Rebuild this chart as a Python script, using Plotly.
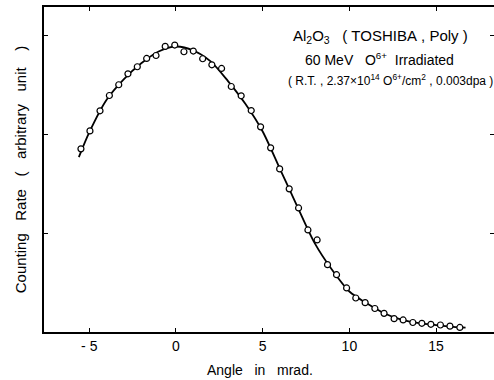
import plotly.graph_objects as go

# Measured points (angle in mrad, counting rate in arbitrary units)
angle = [-5.48, -4.96, -4.38, -3.84, -3.30, -2.77, -2.23, -1.69, -1.15, -0.62,
         -0.07, 0.46, 1.00, 1.54, 2.07, 2.63, 3.19, 3.76, 4.34, 4.88,
         5.46, 5.98, 6.53, 7.07, 7.61, 8.14, 8.74, 9.26, 9.84, 10.37,
         10.91, 11.47, 12.00, 12.58, 13.10, 13.66, 14.18, 14.70, 15.25, 15.80, 16.37]
rate = [1.854, 2.036, 2.239, 2.394, 2.503, 2.614, 2.685, 2.769, 2.799, 2.891,
        2.905, 2.837, 2.844, 2.766, 2.705, 2.668, 2.485, 2.391, 2.242, 2.077,
        1.864, 1.651, 1.449, 1.256, 1.033, 0.932, 0.682, 0.580, 0.446, 0.344,
        0.297, 0.238, 0.189, 0.135, 0.122, 0.096, 0.088, 0.078, 0.071, 0.059, 0.046]

# Smooth fitted curve
curve_angle = [-5.6, -5.0, -4.0, -3.0, -2.0, -1.0, 0.0, 1.0, 2.0, 3.0, 4.0, 5.0,
               6.0, 7.0, 8.0, 9.0, 10.0, 11.0, 12.0, 13.0, 14.0, 15.0, 16.0, 16.7]
curve_rate = [1.77, 2.02, 2.35, 2.56, 2.72, 2.84, 2.89, 2.85, 2.74, 2.54, 2.31, 2.03,
              1.65, 1.27, 0.90, 0.63, 0.41, 0.29, 0.19, 0.125, 0.09, 0.07, 0.052, 0.045]

x_tick_vals = [-5, 0, 5, 10, 15]
x_tick_text = ["- 5", "0", "5", "10", "15"]
y_tick_vals = [1, 2, 3]

FONT = "Liberation Sans"
NB = "\u00a0"

fig = go.Figure()
fig.add_trace(go.Scatter(x=curve_angle, y=curve_rate, mode="lines",
                         line=dict(color="black", width=1.8, shape="spline", smoothing=0.8),
                         hoverinfo="skip", showlegend=False))
fig.add_trace(go.Scatter(x=angle, y=rate, mode="markers",
                         marker=dict(symbol="circle", size=6, color="white",
                                     line=dict(color="black", width=1.2)),
                         showlegend=False))
# invisible trace to host the right-side tick axis
fig.add_trace(go.Scatter(x=[angle[0]], y=[rate[0]], yaxis="y2", mode="markers",
                         marker=dict(opacity=0), hoverinfo="skip", showlegend=False))

xr = [-7.61, 18.34]
yr = [0, 3.29]

fig.update_layout(
    width=494, height=380,
    margin=dict(l=44, r=0, t=7, b=48),
    paper_bgcolor="white", plot_bgcolor="white",
    font=dict(family=FONT, color="black", size=14),
    xaxis=dict(range=xr, tickvals=x_tick_vals, ticktext=x_tick_text,
               ticks="inside", ticklen=4, tickwidth=1, tickcolor="black",
               showline=True, linecolor="black", linewidth=1.5, mirror="ticks",
               showgrid=False, zeroline=False,
               tickfont=dict(size=14, family=FONT)),
    yaxis=dict(range=yr, tickvals=y_tick_vals, showticklabels=False,
               ticks="inside", ticklen=4, tickwidth=1, tickcolor="black",
               showline=True, linecolor="black", linewidth=1.5, mirror=False,
               showgrid=False, zeroline=False,
               title=dict(text=f"Counting{NB*3}Rate{NB*3}({NB*3}arbitrary{NB*3}unit{NB*4})",
                          font=dict(size=15, family=FONT), standoff=12)),
    yaxis2=dict(range=yr, tickvals=y_tick_vals, showticklabels=False, overlaying="y",
                side="right", ticks="inside", ticklen=4, tickwidth=1, tickcolor="black",
                showline=False, showgrid=False, zeroline=False),
)

fig.add_annotation(x=260, y=10, xref="paper", yref="paper", showarrow=False,
                   xanchor="center", yanchor="middle", font=dict(size=14, family=FONT),
                   text=f"Angle{NB*3}in{NB*3}mrad.")
# convert pixel position to paper coords for x title
fig.layout.annotations[0].x = (260 - 44) / (494 - 44)
fig.layout.annotations[0].y = -(370 - 332) / (332 - 7)

fig.add_annotation(x=6.63, y=2.99, xref="x", yref="y", xanchor="left", yanchor="middle",
                   showarrow=False, font=dict(size=15, family=FONT),
                   text=f"Al<sub>2</sub>O<sub>3</sub>{NB*3}({NB}TOSHIBA{NB},{NB}Poly{NB})")
fig.add_annotation(x=7.32, y=2.76, xref="x", yref="y", xanchor="left", yanchor="middle",
                   showarrow=False, font=dict(size=14, family=FONT),
                   text=f"60{NB}MeV{NB*3}O<sup>6+</sup>{NB*2}Irradiated")
fig.add_annotation(x=6.34, y=2.55, xref="x", yref="y", xanchor="left", yanchor="middle",
                   showarrow=False, font=dict(size=12, family=FONT),
                   text=f"({NB}R.T.{NB},{NB}2.37×10<sup>14</sup>{NB}O<sup>6+</sup>/cm<sup>2</sup>{NB},{NB}0.003dpa{NB})")

fig.write_html("out.html")
